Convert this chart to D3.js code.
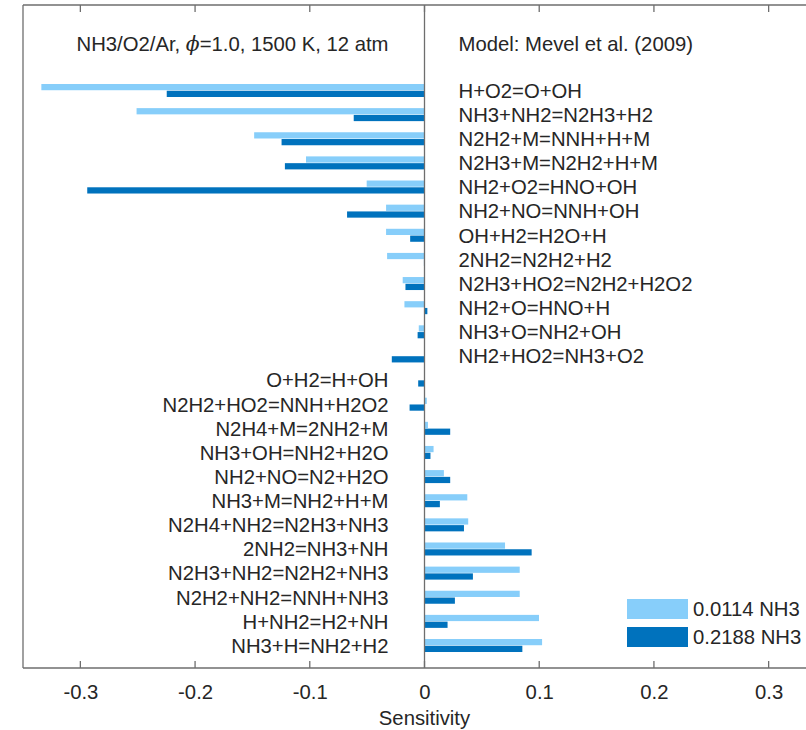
<!DOCTYPE html>
<html>
<head>
<meta charset="utf-8">
<script src="https://cdn.jsdelivr.net/npm/d3@7"></script>
<style>
  html, body { margin: 0; padding: 0; background: #fff; }
  svg { display: block; font-family: "Liberation Sans", Arial, Helvetica, sans-serif; }
</style>
</head>
<body>
<svg id="chart" width="806" height="730"></svg>
<script>
const reactions = [
  "H+O2=O+OH", "NH3+NH2=N2H3+H2", "N2H2+M=NNH+H+M", "N2H3+M=N2H2+H+M",
  "NH2+O2=HNO+OH", "NH2+NO=NNH+OH", "OH+H2=H2O+H", "2NH2=N2H2+H2",
  "N2H3+HO2=N2H2+H2O2", "NH2+O=HNO+H", "NH3+O=NH2+OH", "NH2+HO2=NH3+O2",
  "O+H2=H+OH", "N2H2+HO2=NNH+H2O2", "N2H4+M=2NH2+M", "NH3+OH=NH2+H2O",
  "NH2+NO=N2+H2O", "NH3+M=NH2+H+M", "N2H4+NH2=N2H3+NH3", "2NH2=NH3+NH",
  "N2H3+NH2=N2H2+NH3", "N2H2+NH2=NNH+NH3", "H+NH2=H2+NH", "NH3+H=NH2+H2"
];
const lowNH3 = [
  -0.334, -0.251, -0.1485, -0.1033, -0.0504, -0.0335, -0.0335, -0.0326,
  -0.019, -0.0175, -0.005, 0.0, 0.0, 0.002, 0.003, 0.0079,
  0.0169, 0.0373, 0.0381, 0.0702, 0.083, 0.083, 0.0998, 0.1025
];
const highNH3 = [
  -0.2247, -0.0617, -0.1246, -0.1217, -0.294, -0.0675, -0.0125, -0.0005,
  -0.0166, 0.0025, -0.006, -0.0285, -0.0055, -0.013, 0.0224, 0.0052,
  0.0224, 0.0134, 0.0344, 0.0934, 0.0422, 0.0265, 0.0201, 0.0853
];
const seriesNames = ["0.0114 NH3", "0.2188 NH3"];
const xTicks = [-0.3, -0.2, -0.1, 0, 0.1, 0.2, 0.3];
const titleLeft = "NH3/O2/Ar, ";
const titleRight = "=1.0, 1500 K, 12 atm";
const modelText = "Model: Mevel et al. (2009)";
const xLabel = "Sensitivity";

const colors = ["#87CEFA", "#0072BD"];
const axisColor = "#6e6e6e";
const textColor = "#262626";
const fontSize = 20.3;

const svg = d3.select("#chart");
const pLeft = 23, pRight = 826, pTop = 5, pBottom = 668;

const x = d3.scaleLinear().domain([-0.35, 0.35]).range([pLeft, pRight]);
const y = d3.scaleBand().domain(reactions).range([78.43, 657.57]).padding(0);
const bw = y.bandwidth();
const ySub = d3.scaleBand().domain([0, 1]).range([bw / 2 - 6.5, bw / 2 + 6.5]).paddingInner(0.08);

const data = [lowNH3, highNH3];

// bars
data.forEach((vals, s) => {
  svg.append("g").selectAll("rect").data(vals).join("rect")
    .attr("x", d => x(Math.min(0, d)))
    .attr("width", d => Math.abs(x(d) - x(0)))
    .attr("y", (d, i) => y(reactions[i]) + ySub(s))
    .attr("height", ySub.bandwidth())
    .attr("fill", colors[s]);
});

// frame lines
const frame = svg.append("g").attr("stroke", axisColor).attr("stroke-width", 1.3).attr("fill", "none");
frame.append("line").attr("x1", pLeft).attr("x2", pLeft).attr("y1", pTop).attr("y2", pBottom);
frame.append("line").attr("x1", pLeft).attr("x2", pRight).attr("y1", pTop).attr("y2", pTop);
frame.append("line").attr("x1", pLeft).attr("x2", pRight).attr("y1", pBottom).attr("y2", pBottom);
frame.append("line").attr("x1", x(0)).attr("x2", x(0)).attr("y1", pTop).attr("y2", pBottom);

// bottom axis
const xAxis = d3.axisBottom(x).tickValues(xTicks).tickSize(0).tickPadding(17)
  .tickFormat(d => d === 0 ? "0" : d3.format(".1f")(d).replace("\u2212", "-"));
const gx = svg.append("g").attr("transform", `translate(0,${pBottom})`).call(xAxis);
gx.select(".domain").remove();
gx.selectAll("text").attr("font-size", fontSize).attr("fill", textColor)
  .attr("font-family", "'Liberation Sans', Arial, sans-serif");

// inward tick marks top and bottom
const tk = svg.append("g").attr("stroke", axisColor).attr("stroke-width", 1.3);
tk.selectAll("line.b").data(xTicks).join("line").attr("class", "b")
  .attr("x1", d => x(d)).attr("x2", d => x(d)).attr("y1", pBottom).attr("y2", pBottom - 7);
tk.selectAll("line.t").data(xTicks).join("line").attr("class", "t")
  .attr("x1", d => x(d)).attr("x2", d => x(d)).attr("y1", pTop).attr("y2", pTop + 7);

// x label
svg.append("text").attr("x", x(0)).attr("y", 725).attr("text-anchor", "middle")
  .attr("font-size", fontSize).attr("fill", textColor).text(xLabel);

// category labels
svg.append("g").selectAll("text").data(reactions).join("text")
  .attr("x", (d, i) => i < 12 ? x(0) + 34 : x(0) - 36)
  .attr("y", d => y(d) + bw / 2)
  .attr("dy", "0.36em")
  .attr("text-anchor", (d, i) => i < 12 ? "start" : "end")
  .attr("font-size", fontSize).attr("fill", textColor)
  .text(d => d);

// titles
const t = svg.append("text").attr("x", x(0) - 36).attr("y", 51).attr("text-anchor", "end")
  .attr("font-size", fontSize).attr("fill", textColor);
t.append("tspan").text(titleLeft);
t.append("tspan").attr("font-style", "italic").attr("font-family", "'DejaVu Serif', serif").text("\u03D5");
t.append("tspan").text(titleRight);

svg.append("text").attr("x", x(0) + 34).attr("y", 51).attr("text-anchor", "start")
  .attr("font-size", fontSize).attr("fill", textColor).text(modelText);

// legend
const lg = svg.append("g");
seriesNames.forEach((name, s) => {
  lg.append("rect").attr("x", 627).attr("y", 599 + s * 28).attr("width", 61).attr("height", 20)
    .attr("fill", colors[s]);
  lg.append("text").attr("x", 693).attr("y", 609 + s * 28).attr("dy", "0.36em")
    .attr("font-size", fontSize).attr("fill", textColor).text(name);
});
</script>
</body>
</html>
